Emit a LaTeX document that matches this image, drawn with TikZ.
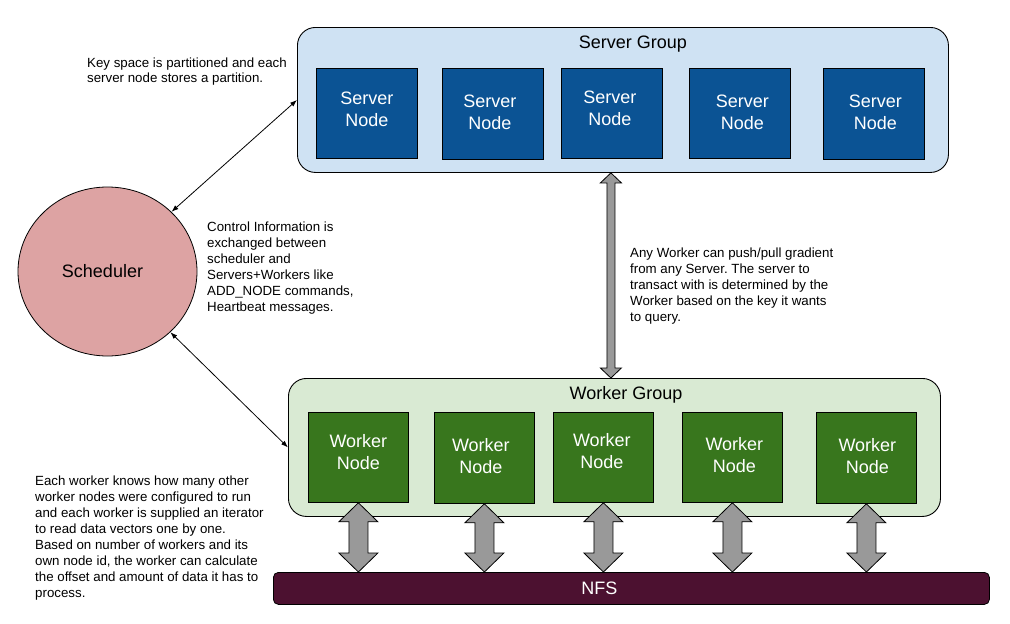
\documentclass[tikz,border=0pt]{standalone}
\usepackage{fontspec}
\setmainfont{Liberation Sans}
\usetikzlibrary{arrows.meta,calc,shapes.geometric}
\definecolor{sgfill}{HTML}{CFE2F3}
\definecolor{snfill}{HTML}{0B5394}
\definecolor{wgfill}{HTML}{D9EAD3}
\definecolor{wnfill}{HTML}{38761D}
\definecolor{nfsfill}{HTML}{4C1130}
\definecolor{schfill}{HTML}{DDA3A3}
\definecolor{fatgray}{HTML}{999999}
\newcommand{\fatarr}[5]{%
  \draw[fatstyle] let \p1=(#1), \p2=(#2) in
    (\x1,\y1) -- (\x1+#4pt,\y1-#5pt) -- (\x1+#3pt,\y1-#5pt) -- (\x1+#3pt,\y2+#5pt)
    -- (\x1+#4pt,\y2+#5pt) -- (\x1,\y2) -- (\x1-#4pt,\y2+#5pt) -- (\x1-#3pt,\y2+#5pt)
    -- (\x1-#3pt,\y1-#5pt) -- (\x1-#4pt,\y1-#5pt) -- cycle;}
\frenchspacing
\begin{document}
\begin{tikzpicture}[x=1pt,y=-1pt,
  bigfont/.style={font=\fontsize{18}{22}\selectfont},
  smallfont/.style={font=\fontsize{13.3}{16}\selectfont},
  group/.style={draw=black, line width=0.9pt, rounded corners=18pt, anchor=north west, inner sep=0pt},
  sgroup/.style={group, fill=sgfill, minimum width=651pt, minimum height=145pt},
  wgroup/.style={group, fill=wgfill, minimum width=652pt, minimum height=138pt},
  boxnode/.style={draw=black, line width=0.8pt, anchor=north west, inner sep=0pt, minimum width=101pt},
  snode/.style={boxnode, fill=snfill, minimum height=90pt},
  wnode/.style={boxnode, fill=wnfill, minimum width=100pt, minimum height=90pt},
  boxtext/.style={bigfont, text=white, align=center, inner sep=0pt},
  note/.style={smallfont, align=left, anchor=north west, inner sep=0pt},
  thinarrow/.style={line width=0.8pt, {Latex[length=7pt,width=5pt]}-{Latex[length=7pt,width=5pt]}},
  fatstyle/.style={fill=fatgray, draw=black, line width=0.8pt, line join=miter}
]
\useasboundingbox (0,0) rectangle (1010,624);

% Server group
\node[sgroup] (sg) at (297,27) {};
\node[bigfont, anchor=base, inner sep=0pt] (sgl) at (633,48) {Server Group};
\node[snode, label={[boxtext, yshift=4.5pt]center:Server\\Node}] (s1) at (316,68) {};
\node[snode, minimum height=91pt, label={[boxtext, xshift=-3pt, yshift=1.5pt]center:Server\\Node}] (s2) at (442,68) {};
\node[snode, label={[boxtext, xshift=-2pt, yshift=5.5pt]center:Server\\Node}] (s3) at (561,68) {};
\node[snode, label={[boxtext, xshift=2.5pt, yshift=1.5pt]center:Server\\Node}] (s4) at (689,68) {};
\node[snode, minimum height=91pt, label={[boxtext, xshift=1.5pt, yshift=1.5pt]center:Server\\Node}] (s5) at (823,68) {};

% Worker group
\node[wgroup] (wg) at (288,378) {};
\node[bigfont, anchor=base, inner sep=0pt] (wgl) at (626,399) {Worker Group};
\node[wnode, label={[boxtext, yshift=5pt]center:Worker\\Node}] (w1) at (308,412) {};
\node[wnode, minimum height=91pt, label={[boxtext, xshift=-3.5pt, yshift=2pt]center:Worker\\Node}] (w2) at (434,412) {};
\node[wnode, label={[boxtext, xshift=-1.5pt, yshift=6pt]center:Worker\\Node}] (w3) at (553,412) {};
\node[wnode, label={[boxtext, xshift=2pt, yshift=2pt]center:Worker\\Node}] (w4) at (682,412) {};
\node[wnode, minimum height=91pt, label={[boxtext, xshift=1pt, yshift=2pt]center:Worker\\Node}] (w5) at (816,412) {};

% NFS
\node[fill=nfsfill, draw=black, line width=0.8pt, rounded corners=5pt, anchor=north west,
      minimum width=716pt, minimum height=32pt, inner sep=0pt,
      label={[bigfont, text=white, xshift=-32pt]center:NFS}] (nfs) at (273,572) {};

% Scheduler
\node[ellipse, draw=black, line width=0.8pt, fill=schfill, minimum width=179pt, minimum height=169pt,
      inner sep=0pt, label={[bigfont, xshift=-5pt]center:Scheduler}] (sch) at (107.5,271.5) {};

% Notes
\node[note] (n1) at (87,58) {Key space is partitioned and each\\[-1pt]server node stores a partition.};
\node[note] (n2) at (207,222) {Control Information is\\exchanged between\\scheduler and\\Servers+Workers like\\ADD\_NODE commands,\\Heartbeat messages.};
\node[note] (n3) at (630,248) {Any Worker can push/pull gradient\\from any Server. The server to\\transact with is determined by the\\Worker based on the key it wants\\to query.};
\node[note] (n4) at (35,476) {Each worker knows how many other\\worker nodes were configured to run\\and each worker is supplied an iterator\\to read data vectors one by one.\\Based on number of workers and its\\own node id, the worker can calculate\\the offset and amount of data it has to\\process.};

% Thin connectors
\draw[thinarrow] (sch.43.6) -- (sg.west);
\draw[thinarrow] (sch.-44) -- (wg.west);

% Fat arrows
\fatarr{$(s3.south |- sg.south)+(-1,0)$}{$(s3.south |- wg.north)+(-1,0)$}{4}{10.5}{10}
\fatarr{w1.south}{w1.south |- nfs.north}{9.5}{19.5}{19}
\fatarr{w2.south}{w2.south |- nfs.north}{9.5}{19.5}{19}
\fatarr{w3.south}{w3.south |- nfs.north}{9.5}{19.5}{19}
\fatarr{w4.south}{w4.south |- nfs.north}{9.5}{19.5}{19}
\fatarr{w5.south}{w5.south |- nfs.north}{9.5}{19.5}{19}
\end{tikzpicture}
\end{document}
